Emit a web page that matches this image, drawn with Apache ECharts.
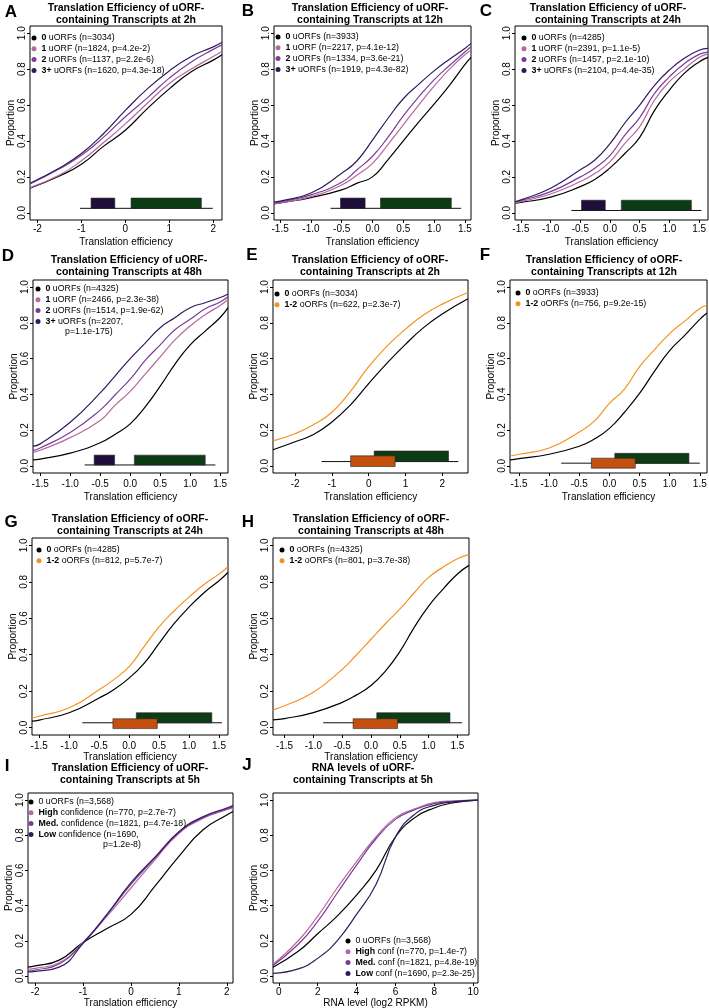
<!DOCTYPE html>
<html>
<head>
<meta charset="utf-8">
<title>Translation efficiency of uORF / oORF containing transcripts</title>
<script src="https://cdn.jsdelivr.net/npm/echarts@6/dist/echarts.min.js"></script>
<style>
  html, body { margin: 0; padding: 0; background: #fff; }
  #chart { width: 709px; height: 1008px; }
</style>
</head>
<body>
<div id="chart"></div>
<script>
// tick labels
const ticksInt = [-2, -1, 0, 1, 2];
const ticksHalf = [-1.5, -1, -0.5, 0, 0.5, 1, 1.5];
const ticksRna = [0, 2, 4, 6, 8, 10];
const ticksProp = [0, 0.2, 0.4, 0.6, 0.8, 1];

// A - uORFs at 2h
const namesA = ['0 uORFs (n=3034)', '1 uORF (n=1824, p=4.2e-2)', '2 uORFs (n=1137, p=2.2e-6)', '3+ uORFs (n=1620, p=4.3e-18)'];
const xA = [-2.17, -1.5, -1, -0.5, 0, 0.5, 1, 1.5, 2, 2.2];
const A0 = [0.137, 0.205, 0.27, 0.37, 0.46, 0.58, 0.69, 0.785, 0.85, 0.88];
const A1 = [0.14, 0.21, 0.29, 0.39, 0.495, 0.61, 0.72, 0.80, 0.87, 0.90];
const A2 = [0.16, 0.245, 0.32, 0.42, 0.535, 0.64, 0.75, 0.84, 0.91, 0.935];
const A3 = [0.165, 0.25, 0.33, 0.44, 0.57, 0.69, 0.79, 0.87, 0.924, 0.948];
const rangesA = [[-1.03, 1.99, 0.025, 0.025], [-0.78, -0.24, 0.025, 0.082], [0.13, 1.73, 0.025, 0.082]];

// B - uORFs at 12h
const namesB = ['0 uORFs (n=3933)', '1 uORF (n=2217, p=4.1e-12)', '2 uORFs (n=1334, p=3.6e-21)', '3+ uORFs (n=1919, p=4.3e-82)'];
const xB = [-1.6, -1.5, -1, -0.5, -0.25, 0, 0.25, 0.5, 0.75, 1, 1.25, 1.5, 1.6];
const B0 = [0.05, 0.055, 0.085, 0.128, 0.165, 0.2, 0.295, 0.40, 0.505, 0.605, 0.71, 0.825, 0.865];
const B1 = [0.05, 0.055, 0.09, 0.155, 0.21, 0.275, 0.38, 0.49, 0.60, 0.705, 0.80, 0.88, 0.905];
const B2 = [0.055, 0.06, 0.10, 0.17, 0.24, 0.315, 0.42, 0.54, 0.645, 0.74, 0.82, 0.895, 0.924];
const B3 = [0.06, 0.065, 0.11, 0.22, 0.29, 0.405, 0.525, 0.635, 0.715, 0.79, 0.855, 0.915, 0.943];
const rangesB = [[-0.68, 1.44, 0.025, 0.025], [-0.52, -0.12, 0.025, 0.082], [0.13, 1.28, 0.025, 0.082]];

// C - uORFs at 24h
const namesC = ['0 uORFs (n=4285)', '1 uORF (n=2391, p=1.1e-5)', '2 uORFs (n=1457, p=2.1e-10)', '3+ uORFs (n=2104, p=4.4e-35)'];
const xC = [-1.6, -1.5, -1, -0.5, -0.25, 0, 0.25, 0.5, 0.75, 1, 1.25, 1.5, 1.65];
const C0 = [0.054, 0.058, 0.087, 0.146, 0.187, 0.25, 0.33, 0.42, 0.57, 0.683, 0.776, 0.84, 0.865];
const C1 = [0.055, 0.062, 0.105, 0.174, 0.22, 0.285, 0.387, 0.48, 0.628, 0.73, 0.80, 0.865, 0.885];
const C2 = [0.06, 0.068, 0.118, 0.20, 0.25, 0.32, 0.433, 0.53, 0.665, 0.757, 0.83, 0.882, 0.895];
const C3 = [0.063, 0.072, 0.137, 0.24, 0.295, 0.385, 0.50, 0.60, 0.71, 0.795, 0.86, 0.905, 0.915];
const rangesC = [[-0.65, 1.54, 0.013, 0.013], [-0.48, -0.08, 0.013, 0.07], [0.19, 1.37, 0.013, 0.07]];

// D - uORFs at 48h
const namesD = ['0 uORFs (n=4325)', '1 uORF (n=2466, p=2.3e-38)', '2 uORFs (n=1514, p=1.9e-62)', '3+ uORFs (n=2207,'];
const xD = [-1.62, -1.5, -1, -0.5, -0.25, 0, 0.25, 0.5, 0.75, 1, 1.25, 1.5, 1.63];
const D0 = [0.033, 0.038, 0.071, 0.129, 0.177, 0.235, 0.33, 0.446, 0.571, 0.677, 0.754, 0.83, 0.885];
const D1 = [0.075, 0.087, 0.158, 0.254, 0.34, 0.417, 0.513, 0.61, 0.706, 0.783, 0.846, 0.898, 0.931];
const D2 = [0.085, 0.10, 0.187, 0.312, 0.398, 0.485, 0.59, 0.677, 0.763, 0.82, 0.879, 0.917, 0.946];
const D3 = [0.11, 0.123, 0.244, 0.408, 0.504, 0.60, 0.687, 0.773, 0.83, 0.885, 0.913, 0.942, 0.962];
const rangesD = [[-0.76, 1.42, 0.005, 0.005], [-0.6, -0.26, 0.005, 0.06], [0.07, 1.25, 0.005, 0.06]];

// E - oORFs at 2h
const namesE = ['0 oORFs (n=3034)', '1-2 oORFs (n=622, p=2.3e-7)'];
const xE = [-2.6, -2, -1.5, -1, -0.5, 0, 0.5, 1, 1.5, 2, 2.7];
const E0 = [0.09, 0.135, 0.175, 0.245, 0.34, 0.46, 0.575, 0.68, 0.775, 0.85, 0.935];
const E1 = [0.14, 0.18, 0.23, 0.30, 0.415, 0.555, 0.67, 0.765, 0.845, 0.905, 0.97];
const rangesE = [[-1.28, 2.44, 0.024, 0.024], [0.15, 2.17, 0.024, 0.083], [-0.49, 0.72, -0.004, 0.056]];

// F - oORFs at 12h
const namesF = ['0 oORFs (n=3933)', '1-2 oORFs (n=756, p=9.2e-15)'];
const xF = [-1.65, -1.5, -1, -0.5, -0.25, 0, 0.25, 0.5, 0.75, 1, 1.25, 1.5, 1.62];
const F0 = [0.033, 0.04, 0.065, 0.11, 0.15, 0.21, 0.30, 0.405, 0.53, 0.645, 0.73, 0.82, 0.855];
const F1 = [0.055, 0.065, 0.10, 0.19, 0.25, 0.35, 0.43, 0.555, 0.65, 0.74, 0.81, 0.88, 0.90];
const rangesF = [[-0.8, 1.5, 0.015, 0.015], [0.09, 1.32, 0.015, 0.07], [-0.3, 0.43, -0.013, 0.043]];

// G - oORFs at 24h
const namesG = ['0 oORFs (n=4285)', '1-2 oORFs (n=812, p=5.7e-7)'];
const xG = [-1.62, -1.5, -1, -0.5, -0.25, 0, 0.25, 0.5, 0.75, 1, 1.25, 1.5, 1.65];
const G0 = [0.036, 0.042, 0.082, 0.163, 0.21, 0.272, 0.353, 0.462, 0.57, 0.661, 0.74, 0.806, 0.851];
const G1 = [0.054, 0.063, 0.109, 0.208, 0.265, 0.335, 0.444, 0.553, 0.64, 0.716, 0.785, 0.842, 0.882];
const rangesG = [[-0.78, 1.55, 0.027, 0.027], [0.12, 1.38, 0.027, 0.082], [-0.27, 0.47, -0.005, 0.049]];

// H - oORFs at 48h
const namesH = ['0 oORFs (n=4325)', '1-2 oORFs (n=801, p=3.7e-38)'];
const xH = [-1.7, -1.5, -1, -0.5, -0.25, 0, 0.25, 0.5, 0.75, 1, 1.25, 1.5, 1.7];
const H0 = [0.043, 0.05, 0.083, 0.139, 0.18, 0.231, 0.31, 0.417, 0.55, 0.667, 0.76, 0.843, 0.89];
const H1 = [0.098, 0.12, 0.194, 0.32, 0.40, 0.485, 0.57, 0.65, 0.74, 0.824, 0.88, 0.926, 0.95];
const rangesH = [[-0.83, 1.58, 0.027, 0.027], [0.1, 1.37, 0.027, 0.082], [-0.31, 0.46, -0.005, 0.049]];

// I - uORF confidence at 5h
const namesI = ['0 uORFs (n=3,568)', 'High confidence (n=770, p=2.7e-7)', 'Med. confidence (n=1821, p=4.7e-18)', 'Low confidence (n=1690,'];
const xI = [-2.15, -2, -1.5, -1, -0.5, 0, 0.5, 1, 1.5, 2, 2.13];
const I0 = [0.05, 0.057, 0.09, 0.19, 0.27, 0.35, 0.51, 0.68, 0.83, 0.915, 0.935];
const IH = [0.038, 0.043, 0.075, 0.19, 0.34, 0.50, 0.66, 0.81, 0.895, 0.945, 0.955];
const IM = [0.028, 0.034, 0.068, 0.19, 0.35, 0.52, 0.67, 0.815, 0.90, 0.95, 0.96];
const IL = [0.023, 0.026, 0.05, 0.185, 0.35, 0.53, 0.675, 0.82, 0.905, 0.955, 0.968];

// J - RNA levels at 5h
const namesJ = ['0 uORFs (n=3,568)', 'High conf (n=770, p=1.4e-7)', 'Med. conf (n=1821, p=4.8e-19)', 'Low conf (n=1690, p=2.3e-25)'];
const xJ = [-0.3, 1, 2, 3, 4, 5, 6, 7, 8, 9, 10.25];
const J0 = [0.05, 0.14, 0.24, 0.34, 0.46, 0.60, 0.79, 0.90, 0.955, 0.985, 1.0];
const JH = [0.065, 0.20, 0.34, 0.50, 0.65, 0.79, 0.90, 0.95, 0.985, 0.995, 1.0];
const JM = [0.06, 0.18, 0.31, 0.47, 0.63, 0.78, 0.89, 0.945, 0.98, 0.993, 1.0];
const JL = [0.015, 0.04, 0.10, 0.20, 0.35, 0.52, 0.79, 0.92, 0.97, 0.99, 1.0];

const FONT = '"Liberation Sans", Arial, Helvetica, sans-serif';
const COL = {
  zero: '#000000',
  one: '#b5689f',
  two: '#7a3e98',
  three: '#2f1b5e',
  orf: '#f5921f',
  boxPurple: '#1f0d3a',
  boxGreen: '#0c3c14',
  boxOrange: '#c4500f'
};

const uTitle = h => ['Translation Efficiency of uORF-', 'containing Transcripts at ' + h];
const oTitle = h => ['Translation Efficiency of oORF-', 'containing Transcripts at ' + h];
const uCols = [COL.zero, COL.one, COL.two, COL.three];
const uBoxes = [null, COL.boxPurple, COL.boxGreen];
const oBoxes = [null, COL.boxGreen, COL.boxOrange];

const panels = [
  { key: 'A', letter: [11, 13], title: uTitle('2h'), titleX: 126, titleTop: 2, grid: [30, 26, 192, 194], xr: [-2.17, 2.2], ticks: ticksInt, dec: 0,
    x: xA, ys: [A0, A1, A2, A3], names: namesA, cols: uCols, ranges: rangesA, boxCols: uBoxes, legend: [35, 38], margin: 4, gap: 17 },
  { key: 'B', letter: [248, 12], title: uTitle('12h'), titleX: 370, titleTop: 2, grid: [274, 26, 197, 194], xr: [-1.6, 1.6], ticks: ticksHalf, dec: 1,
    x: xB, ys: [B0, B1, B2, B3], names: namesB, cols: uCols, ranges: rangesB, boxCols: uBoxes, legend: [279, 37], margin: 4, gap: 17 },
  { key: 'C', letter: [486, 12], title: uTitle('24h'), titleX: 608, titleTop: 2, grid: [515, 26, 193, 194], xr: [-1.6, 1.65], ticks: ticksHalf, dec: 1,
    x: xC, ys: [C0, C1, C2, C3], names: namesC, cols: uCols, ranges: rangesC, boxCols: uBoxes, legend: [525, 38], margin: 4, gap: 17 },
  { key: 'D', letter: [8, 257], title: uTitle('48h'), titleX: 129, titleTop: 254, grid: [33, 280, 195, 193], xr: [-1.62, 1.63], ticks: ticksHalf, dec: 1,
    x: xD, ys: [D0, D1, D2, D3], names: namesD, cols: uCols, ranges: rangesD, boxCols: uBoxes, legend: [39, 289], margin: 6, gap: 19,
    more: ['p=1.1e-175)', 65] },
  { key: 'E', letter: [252, 256], title: oTitle('2h'), titleX: 370, titleTop: 254, grid: [273, 280, 195, 193], xr: [-2.6, 2.7], ticks: ticksInt, dec: 0,
    x: xE, ys: [E0, E1], names: namesE, cols: [COL.zero, COL.orf], ranges: rangesE, boxCols: oBoxes, legend: [278, 294], margin: 6, gap: 19 },
  { key: 'F', letter: [485, 256], title: oTitle('12h'), titleX: 604, titleTop: 254, grid: [510, 280, 197, 193], xr: [-1.65, 1.62], ticks: ticksHalf, dec: 1,
    x: xF, ys: [F0, F1], names: namesF, cols: [COL.zero, COL.orf], ranges: rangesF, boxCols: oBoxes, legend: [519, 293], margin: 6, gap: 19 },
  { key: 'G', letter: [11, 523], title: oTitle('24h'), titleX: 130, titleTop: 513, grid: [32, 538, 196, 197], xr: [-1.62, 1.65], ticks: ticksHalf, dec: 1,
    x: xG, ys: [G0, G1], names: namesG, cols: [COL.zero, COL.orf], ranges: rangesG, boxCols: oBoxes, legend: [40, 550], margin: 6, gap: 17 },
  { key: 'H', letter: [248, 523], title: oTitle('48h'), titleX: 371, titleTop: 513, grid: [273, 538, 196, 197], xr: [-1.7, 1.7], ticks: ticksHalf, dec: 1,
    x: xH, ys: [H0, H1], names: namesH, cols: [COL.zero, COL.orf], ranges: rangesH, boxCols: oBoxes, legend: [283, 550], margin: 6, gap: 17 },
  { key: 'I', letter: [7, 767], title: uTitle('5h'), titleX: 130, titleTop: 762, grid: [28, 793, 205, 190], xr: [-2.15, 2.13], ticks: ticksInt, dec: 0,
    x: xI, ys: [I0, IH, IM, IL], names: namesI, cols: uCols, legend: [32, 802], margin: 4, gap: 14, plainZero: true,
    more: ['p=1.2e-8)', 103] },
  { key: 'J', letter: [247, 766], title: ['RNA levels of uORF-', 'containing Transcripts at 5h'], titleX: 363, titleTop: 762, grid: [273, 793, 205, 190], xr: [-0.3, 10.25], ticks: ticksRna, dec: 0,
    x: xJ, ys: [J0, JH, JM, JL], names: namesJ, cols: uCols, legend: [349, 941], margin: 4, gap: 14, plainZero: true,
    xname: 'RNA level (log2 RPKM)' }
];

const LEG_LINE = 10.8;

function spanItem(params, api) {
  const a = api.coord([api.value(0), api.value(2)]);
  const b = api.coord([api.value(1), api.value(3)]);
  if (api.value(2) === api.value(3)) {
    return { type: 'line', shape: { x1: a[0], y1: a[1], x2: b[0], y2: b[1] }, style: { stroke: '#111', lineWidth: 1 } };
  }
  return {
    type: 'rect',
    shape: { x: a[0], y: b[1], width: b[0] - a[0], height: a[1] - b[1] },
    style: { fill: api.visual('color'), stroke: '#222', lineWidth: 0.6 }
  };
}

const grid = [], xAxis = [], yAxis = [], series = [], legend = [], title = [], graphic = [];

panels.forEach((p, i) => {
  const [gl, gt, gw, gh] = p.grid;
  grid.push({ left: gl, top: gt, width: gw, height: gh, show: true, borderColor: '#000', borderWidth: 1, outerBoundsMode: 'none' });

  xAxis.push({
    type: 'value', gridIndex: i, min: p.xr[0], max: p.xr[1],
    axisLine: { show: false, onZero: false },
    axisTick: { show: true, length: 3, customValues: p.ticks, lineStyle: { color: '#000' } },
    axisLabel: { customValues: p.ticks, formatter: v => v.toFixed(p.dec), margin: p.margin, fontSize: 10, color: '#000' },
    splitLine: { show: false },
    name: p.xname || 'Translation efficiency', nameLocation: 'middle', nameGap: p.gap,
    nameTextStyle: { fontSize: 10, color: '#000' }
  });
  yAxis.push({
    type: 'value', gridIndex: i, min: -0.04, max: 1.04,
    axisLine: { show: false, onZero: false },
    axisTick: { show: true, length: 3, customValues: ticksProp, lineStyle: { color: '#000' } },
    axisLabel: { customValues: ticksProp, formatter: v => v.toFixed(1), rotate: 90, margin: 3, fontSize: 10, color: '#000' },
    splitLine: { show: false },
    name: 'Proportion', nameLocation: 'middle', nameRotate: 90, nameGap: 14,
    nameTextStyle: { fontSize: 10, color: '#000' }
  });

  title.push({
    text: p.title.join('\n'), left: p.titleX, top: p.titleTop, textAlign: 'center', padding: 0,
    textStyle: { fontSize: 10.5, fontWeight: 'bold', lineHeight: 12, color: '#000', fontFamily: FONT }
  });
  title.push({
    text: p.key, left: p.letter[0], top: p.letter[1] - 9, textAlign: 'center', padding: 0,
    textStyle: { fontSize: 17, fontWeight: 'bold', color: '#000', fontFamily: FONT }
  });

  if (p.ranges) {
    series.push({
      type: 'custom', xAxisIndex: i, yAxisIndex: i, silent: true, z: 2,
      encode: { x: [0, 1], y: [2, 3] },
      renderItem: spanItem,
      data: p.ranges.map((r, k) => ({ value: r, itemStyle: { color: p.boxCols[k] || '#111' } }))
    });
  }

  p.ys.forEach((ys, k) => {
    series.push({
      name: p.names[k], type: 'line', xAxisIndex: i, yAxisIndex: i,
      data: p.x.map((x, j) => [x, ys[j]]),
      showSymbol: false, smooth: 0.5, silent: true, z: 3,
      lineStyle: { color: p.cols[k], width: 1.2 },
      itemStyle: { color: p.cols[k] }
    });
  });

  legend.push({
    left: p.legend[0] - 3.5, top: p.legend[1] - LEG_LINE / 2, orient: 'vertical',
    padding: 0, itemGap: 0, itemWidth: 5, itemHeight: 5, icon: 'circle', selectedMode: false,
    data: p.names,
    formatter: name => {
      const cut = name.indexOf(' ');
      if (p.plainZero && name.startsWith('0 ')) return '{n|' + name + '}';
      return '{b|' + name.slice(0, cut) + '}{n|' + name.slice(cut) + '}';
    },
    textStyle: {
      fontSize: 8.8, lineHeight: LEG_LINE, color: '#000', fontFamily: FONT,
      rich: {
        b: { fontWeight: 'bold', fontSize: 8.8, lineHeight: LEG_LINE, fontFamily: FONT },
        n: { fontSize: 8.8, lineHeight: LEG_LINE, fontFamily: FONT }
      }
    }
  });

  if (p.more) {
    graphic.push({
      type: 'text', left: p.more[1], top: p.legend[1] + 4 * LEG_LINE - LEG_LINE / 2,
      style: { text: p.more[0], font: '8.8px ' + FONT, fill: '#000' }
    });
  }
});

const chart = echarts.init(document.getElementById('chart'));
chart.setOption({
  animation: false,
  backgroundColor: '#fff',
  textStyle: { fontFamily: FONT },
  title: title,
  legend: legend,
  grid: grid,
  xAxis: xAxis,
  yAxis: yAxis,
  series: series,
  graphic: graphic
});
</script>
</body>
</html>
